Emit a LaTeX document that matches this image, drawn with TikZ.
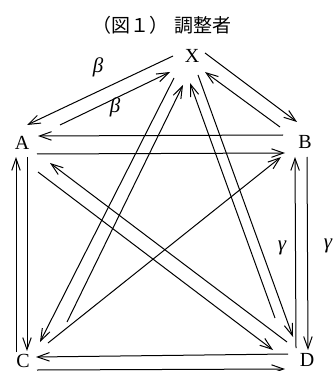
\documentclass[tikz,border=0pt]{standalone}
\usepackage{fontspec}
\setmainfont{Liberation Serif}
\newfontfamily\cjk{Noto Sans CJK JP}
\usetikzlibrary{arrows.meta}
\begin{document}
\begin{tikzpicture}[x=1pt,y=-1pt,
  lbl/.style={font=\fontsize{20}{20}\selectfont, inner sep=0pt},
  glab/.style={font=\fontsize{21}{21}\selectfont\itshape, inner sep=0pt},
  arr/.style={line width=1pt, -{Straight Barb[length=12pt,width=8.5pt]}}]
\useasboundingbox (0,0) rectangle (333,371);
\node[inner sep=0pt, font=\cjk\fontsize{19}{19}\selectfont] (title) at (162,25) {（図１）\hspace{6pt}調整者};
\node[lbl] (X) at (192,56) {X};
\node[lbl] (A) at (22,143) {A};
\node[lbl] (B) at (305,142) {B};
\coordinate (C) at (23,362);
\node[lbl] (Ct) at (23,361) {C};
\node[lbl] (D) at (307,360) {D};
\node[glab] (b1) at (98,67) {β};
\node[glab] (b2) at (115,107) {β};
\node[glab] (g1) at (282,248) {γ};
\node[glab] (g2) at (328,246) {γ};
% X - A
\draw[arr] ([shift={(-19,0)}]X.center) -- ([shift={(5,-18)}]A.center);
\draw[arr] ([shift={(38,-18)}]A.center) -- ([shift={(-22,16)}]X.center);
% X - B
\draw[arr] ([shift={(13,-3)}]X.center) -- ([shift={(-8,-20)}]B.center);
\draw[arr] ([shift={(-25,-15)}]B.center) -- ([shift={(13,16)}]X.center);
% A - B
\draw[arr] ([shift={(-22,-7)}]B.center) -- ([shift={(16,-7)}]A.center);
\draw[arr] ([shift={(15,11)}]A.center) -- ([shift={(-20,11)}]B.center);
% A - C
\draw[arr] ([shift={(-7,-10)}]C) -- ([shift={(-6,14)}]A.center);
\draw[arr] ([shift={(5,14)}]A.center) -- ([shift={(4,-11)}]C);
% B - D
\draw[arr] ([shift={(-11,-12)}]D.center) -- ([shift={(-10,15)}]B.center);
\draw[arr] ([shift={(2,15)}]B.center) -- ([shift={(1,-10)}]D.center);
% C - D
\draw[arr] ([shift={(-19,-6)}]D.center) -- ([shift={(13,-5)}]C);
\draw[arr] ([shift={(14,8)}]C) -- ([shift={(-22,9)}]D.center);
% X - C
\draw[arr] ([shift={(-18,22)}]X.center) -- ([shift={(17,-20)}]C);
\draw[arr] ([shift={(44,-40)}]C) -- ([shift={(-9,29)}]X.center);
% X - D
\draw[arr] ([shift={(6,19)}]X.center) -- ([shift={(-14,-23)}]D.center);
\draw[arr] ([shift={(-32,-42)}]D.center) -- ([shift={(-2,27)}]X.center);
% A - D
\draw[arr] ([shift={(-20,-18)}]D.center) -- ([shift={(28,20)}]A.center);
\draw[arr] ([shift={(16,29)}]A.center) -- ([shift={(-34,-10)}]D.center);
% C - B
\draw[arr] ([shift={(25,-19)}]C) -- ([shift={(-24,15)}]B.center);
\end{tikzpicture}
\end{document}
